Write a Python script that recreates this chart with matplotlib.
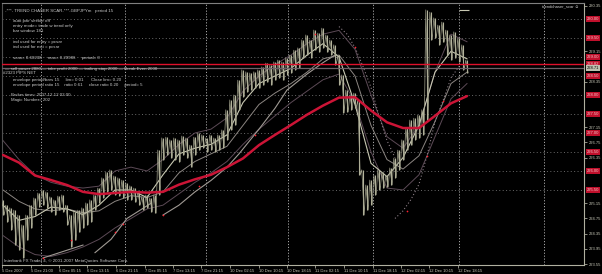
import numpy as np
import matplotlib.pyplot as plt

plt.rcParams['font.family'] = ['Liberation Sans', 'DejaVu Sans']

# --- Données lues sur la capture (GBPJPY, 5-12 Dec 2007) ---
# plus hauts / plus bas de chaque barre
highs = [225.24, 225.10, 225.03, 224.97, 224.84, 224.58, 224.84, 225.10, 225.29, 225.42,
         225.50, 225.45, 225.32, 225.24, 225.34, 225.37, 225.10, 224.84, 224.92, 224.97,
         225.03, 225.16, 225.24, 225.37, 225.55, 225.82, 225.97, 226.03, 225.87, 225.82,
         225.76, 225.68, 225.61, 225.55, 225.45, 225.32, 225.37, 225.29, 225.37, 226.55,
         226.87, 226.89, 226.82, 226.87, 226.82, 226.92, 226.87, 226.68, 226.89, 227.00,
         226.95, 226.87, 226.95, 226.87, 226.95, 227.08, 227.61, 227.87, 228.00, 228.39,
         228.66, 228.61, 228.58, 228.61, 228.66, 228.74, 228.84, 228.79, 228.87, 228.92,
         228.87, 228.97, 229.05, 229.18, 229.24, 229.45, 229.58, 229.45, 229.71, 229.63,
         229.76, 229.58, 229.45, 229.32, 229.05, 228.53, 228.13, 228.00, 228.05, 227.87,
         226.03, 225.63, 225.76, 225.89, 226.03, 225.97, 225.89, 226.08, 226.34, 226.55,
         226.82, 227.13, 227.34, 227.39, 227.47, 227.61, 230.24, 230.18, 230.03, 229.84,
         229.92, 229.71, 229.58, 229.66, 229.50, 229.32, 228.92]
lows = [224.84, 224.66, 224.45, 224.05, 223.92, 223.71, 224.18, 224.50, 224.84, 225.05,
        225.10, 225.03, 224.92, 224.84, 224.97, 224.92, 224.58, 224.00, 224.18, 224.39,
        224.50, 224.58, 224.66, 224.97, 225.16, 225.29, 225.45, 225.50, 225.37, 225.34,
        225.29, 225.24, 225.24, 225.18, 225.10, 224.97, 225.03, 224.92, 224.89, 225.37,
        226.29, 226.42, 226.34, 226.29, 226.24, 226.42, 226.34, 226.10, 226.42, 226.55,
        226.61, 226.50, 226.55, 226.50, 226.55, 226.61, 226.82, 227.08, 227.21, 227.61,
        227.95, 228.08, 228.13, 228.18, 228.18, 228.26, 228.34, 228.26, 228.39, 228.45,
        228.39, 228.53, 228.58, 228.66, 228.71, 228.97, 229.05, 228.97, 229.18, 229.13,
        229.24, 229.13, 229.05, 228.79, 228.26, 227.53, 227.55, 227.61, 227.66, 225.89,
        224.84, 224.97, 225.10, 225.37, 225.50, 225.55, 225.58, 225.63, 225.82, 226.03,
        226.29, 226.55, 226.68, 226.82, 226.87, 226.95, 227.34, 229.45, 229.50, 229.32,
        229.39, 229.05, 228.92, 228.97, 228.87, 228.66, 228.58]

# indicateurs, une valeur toutes les 4 barres
ma_idx = list(range(0, 117, 4))
ma_rouge = [226.42, 226.22, 225.88, 225.76, 225.63, 225.45, 225.39, 225.42, 225.45, 225.43,
            225.45, 225.64, 225.78, 225.90, 226.10, 226.33, 226.68, 226.95, 227.21, 227.48,
            227.72, 227.93, 227.94, 227.59, 227.28, 227.13, 227.13, 227.45, 227.78, 227.97]
ma_rapide = [225.10, 224.70, 224.80, 225.05, 225.00, 224.85, 225.10, 225.50, 225.50, 225.30,
             225.90, 226.45, 226.60, 226.70, 226.95, 227.80, 228.30, 228.50, 228.70, 229.05,
             229.35, 229.00, 227.75, 226.20, 225.85, 226.35, 227.20, 228.60, 229.15, 228.95]
ma_lente = [225.50, 225.20, 225.00, 224.95, 225.00, 224.90, 224.95, 225.20, 225.35, 225.30,
            225.45, 225.95, 226.25, 226.45, 226.65, 227.20, 227.75, 228.05, 228.30, 228.60,
            228.95, 229.05, 228.50, 227.20, 226.30, 226.05, 226.40, 227.30, 228.30, 228.60]
env_haut = [226.80, 226.30, 225.90, 225.70, 225.60, 225.55, 225.60, 226.00, 226.10, 226.00,
            226.30, 226.70, 227.00, 227.10, 227.40, 228.10, 228.50, 228.80, 229.05, 229.35,
            229.60, 229.70, 229.20, 228.00, 226.90, 226.60, 227.20, 228.60, 229.60, 229.40]
env_bas = [224.30, 224.00, 223.80, 223.75, 223.85, 224.00, 224.20, 224.50, 224.75, 225.00,
           225.10, 225.40, 225.70, 225.95, 226.25, 226.70, 227.10, 227.45, 227.80, 228.10,
           228.40, 228.55, 227.80, 226.50, 225.55, 225.50, 225.90, 226.90, 227.90, 228.30]

# stop suiveur (segments)
trail_idx = [10, 20, np.nan, 23, 27, 31, 37, np.nan, 40, 44, 48, 52, 56, 59, 64, 68, 71, 76, 80, 83]
trail_val = [223.71, 224.05, np.nan, 223.85, 224.20, 224.75, 225.15, np.nan, 224.84, 225.10,
             225.45, 225.75, 226.10, 226.45, 227.10, 227.65, 228.13, 228.55, 228.85, 229.05]

# lignes pointillées
sar1_idx = [84, 86, 88, 90, 92, 94, 96, 98]
sar1_val = [229.80, 229.60, 229.25, 228.75, 228.20, 227.45, 226.80, 226.35]
sar2_idx = [98, 100, 102, 104, 106, 108, 110, 112, 114]
sar2_val = [224.75, 224.95, 225.25, 225.65, 226.40, 227.30, 227.85, 228.45, 228.75]

# petits points rouges
rouge_idx = [10, 17, 28, 30, 40, 49, 63, 78, 88, 101, 106, 110]
rouge_val = [223.71, 224.18, 224.40, 224.60, 224.84, 225.60, 226.95, 229.60, 229.25, 224.95, 226.40, 227.85]

# niveaux horizontaux
niveaux = [225.5, 226.0, 226.5, 227.0, 227.5, 228.0, 228.5, 229.0, 229.5, 230.0]
ligne_rouge = 228.82
prix_actuel = 228.71

# graduations de prix visibles (les autres sont cachées par les étiquettes rouges)
prix_ticks = [223.55, 223.95, 224.35, 224.75, 225.15, 226.35, 226.75, 227.15, 228.35, 229.15, 230.35]
temps_pos = [-0.25, 6.9, 14.0, 21.1, 28.25, 35.4, 42.5, 49.6, 56.75, 63.9, 71.0,
             78.1, 85.25, 92.4, 99.5, 106.6, 113.75]
temps_lab = ["5 Dec 2007", "5 Dec 21:00", "6 Dec 05:15", "6 Dec 13:15", "6 Dec 21:15",
             "7 Dec 05:15", "7 Dec 13:15", "7 Dec 21:15", "10 Dec 02:15", "10 Dec 10:15",
             "10 Dec 18:15", "11 Dec 02:15", "11 Dec 10:15", "11 Dec 18:15", "12 Dec 02:15",
             "12 Dec 10:15", "12 Dec 18:15"]
grille_x = [9.5, 30.5, 50.75, 71.25, 92.5, 114, 135.25]

infos = [
    ("-***- TREND CHASER SCAR-***-GBPJPYm   period 15", 5, 11),
    ("auto pair seeker off", 13, 21),
    ("entry mode= trade w trend only", 13, 26),
    ("bar window 181", 13, 31),
    ("ind used for entry = pcsar", 13, 42),
    ("ind used for exit = pcsar", 13, 47),
    ("scan= 0.60238     max= 0.20986     period= 0", 13, 58),
    ("— sell power 2880 — take profit 2000 — trailing stop 2000 — Break Even 2000", 5, 69),
    ("#2323 PIPS NET", 3, 73),
    ("envelope period/bars 15     lim= 0.01      Close lim= 0.20", 13, 80),
    ("envelope period ratio 15    ratio 0.61     close ratio 0.20     period= 5", 13, 85),
    ("Broker time= 2007.12.12 02:00", 11, 95),
    ("Magic Number= 202", 11, 100),
]

# --- Figure ---
W, H = 602, 274
fig = plt.figure(figsize=(W / 100, H / 100), dpi=100, facecolor='black')
ax = fig.add_axes([2 / W, 9 / H, 582 / W, 262 / H], facecolor='black')
ax.set_xlim(-0.25, 145.25)
ax.set_ylim(223.525, 230.42)

# grille
for v in niveaux:
    ax.axhline(v, color='#6a6a6a', lw=0.7, ls=(0, (1, 2.5)), zorder=1)
for g in grille_x:
    ax.axvline(g, color='#a8a8a8', lw=0.7, ls=(0, (1.2, 1.8)), zorder=1)

ax.axhline(ligne_rouge, color='#e0102c', lw=1.0, zorder=5)
ax.axhline(prix_actuel, color='#6e6068', lw=0.9, zorder=5)

# indicateurs
ax.plot(ma_idx, env_haut, color='#5c4a56', lw=0.7, zorder=2)
ax.plot(ma_idx, env_bas, color='#5c4a56', lw=0.7, zorder=2)
ax.plot(ma_idx, ma_lente, color='#8c8682', lw=0.7, zorder=2)
ax.plot(ma_idx, ma_rapide, color='#c8c8b2', lw=0.8, zorder=3)
ax.plot(trail_idx, trail_val, color='#a09a94', lw=0.8, zorder=2)
ax.plot(sar1_idx, sar1_val, color='#8a7c84', lw=0.8, ls=(0, (1, 2)), zorder=2)
ax.plot(sar2_idx, sar2_val, color='#8a7c84', lw=0.8, ls=(0, (1, 2)), zorder=2)
ax.plot(ma_idx, ma_rouge, color='#cc1436', lw=1.8, zorder=4, solid_capstyle='round')

# barres de prix
x = np.arange(len(highs))
ax.vlines(x, lows, highs, color='#b4b49c', lw=0.8, zorder=3)
zx, zy = [], []
for i in range(len(highs)):
    zx += [i - 0.3, i + 0.3]
    zy += [highs[i], lows[i]]
ax.plot(zx, zy, color='#a4a48e', lw=0.5, zorder=3)
ax.hlines(230.24, 114, 116.5, color='#c8c8b2', lw=0.8, zorder=3)

ax.scatter(rouge_idx, rouge_val, s=1.5, color='#ff2030', zorder=6, linewidths=0)

# axes
for side, col in [('left', '#505050'), ('top', '#808080'), ('right', '#b0b0a0'), ('bottom', '#b0b0a0')]:
    ax.spines[side].set_color(col)
    ax.spines[side].set_linewidth(0.8)

ax.yaxis.tick_right()
ax.set_yticks(prix_ticks)
ax.set_yticklabels([f"{p:.2f}" for p in prix_ticks])
ax.tick_params(axis='y', colors='#c8c8b8', labelsize=3.0, length=2, width=0.5, pad=1.2)
ax.set_xticks(temps_pos)
ax.set_xticklabels(temps_lab, ha='left')
ax.tick_params(axis='x', colors='#c8c8b8', labelsize=3.0, length=2, width=0.5, pad=1)

tr = ax.get_yaxis_transform()
for v in niveaux + [ligne_rouge]:
    ax.text(1.005, v, f"{v:.2f}", transform=tr, fontsize=3.0, color='#f0c8c8',
            ha='left', va='center', zorder=10, clip_on=False,
            bbox=dict(boxstyle='square,pad=0.2', fc='#c0102c', ec='none'))
ax.text(1.005, prix_actuel, f"{prix_actuel:.2f}", transform=tr, fontsize=3.0, color='black',
        ha='left', va='center', zorder=11, clip_on=False,
        bbox=dict(boxstyle='square,pad=0.2', fc='#c0c0b0', ec='none'))

# textes
for txt, px, py in infos:
    fig.text(px / W, 1 - py / H, txt, fontsize=3.2, color='#c8c8c8', ha='left', va='center')
fig.text(542 / W, 1 - 6 / H, "trendchaser_scar ☺", fontsize=3.0, color='#d0d0d0', ha='left', va='center')
fig.text(4 / W, 1 - 261 / H, "Interbank FX Trader 4, © 2001-2007 MetaQuotes Software Corp.",
         fontsize=3.2, color='#c8c8c8', ha='left', va='center')

fig.savefig('out.png', dpi=100, facecolor='black')
